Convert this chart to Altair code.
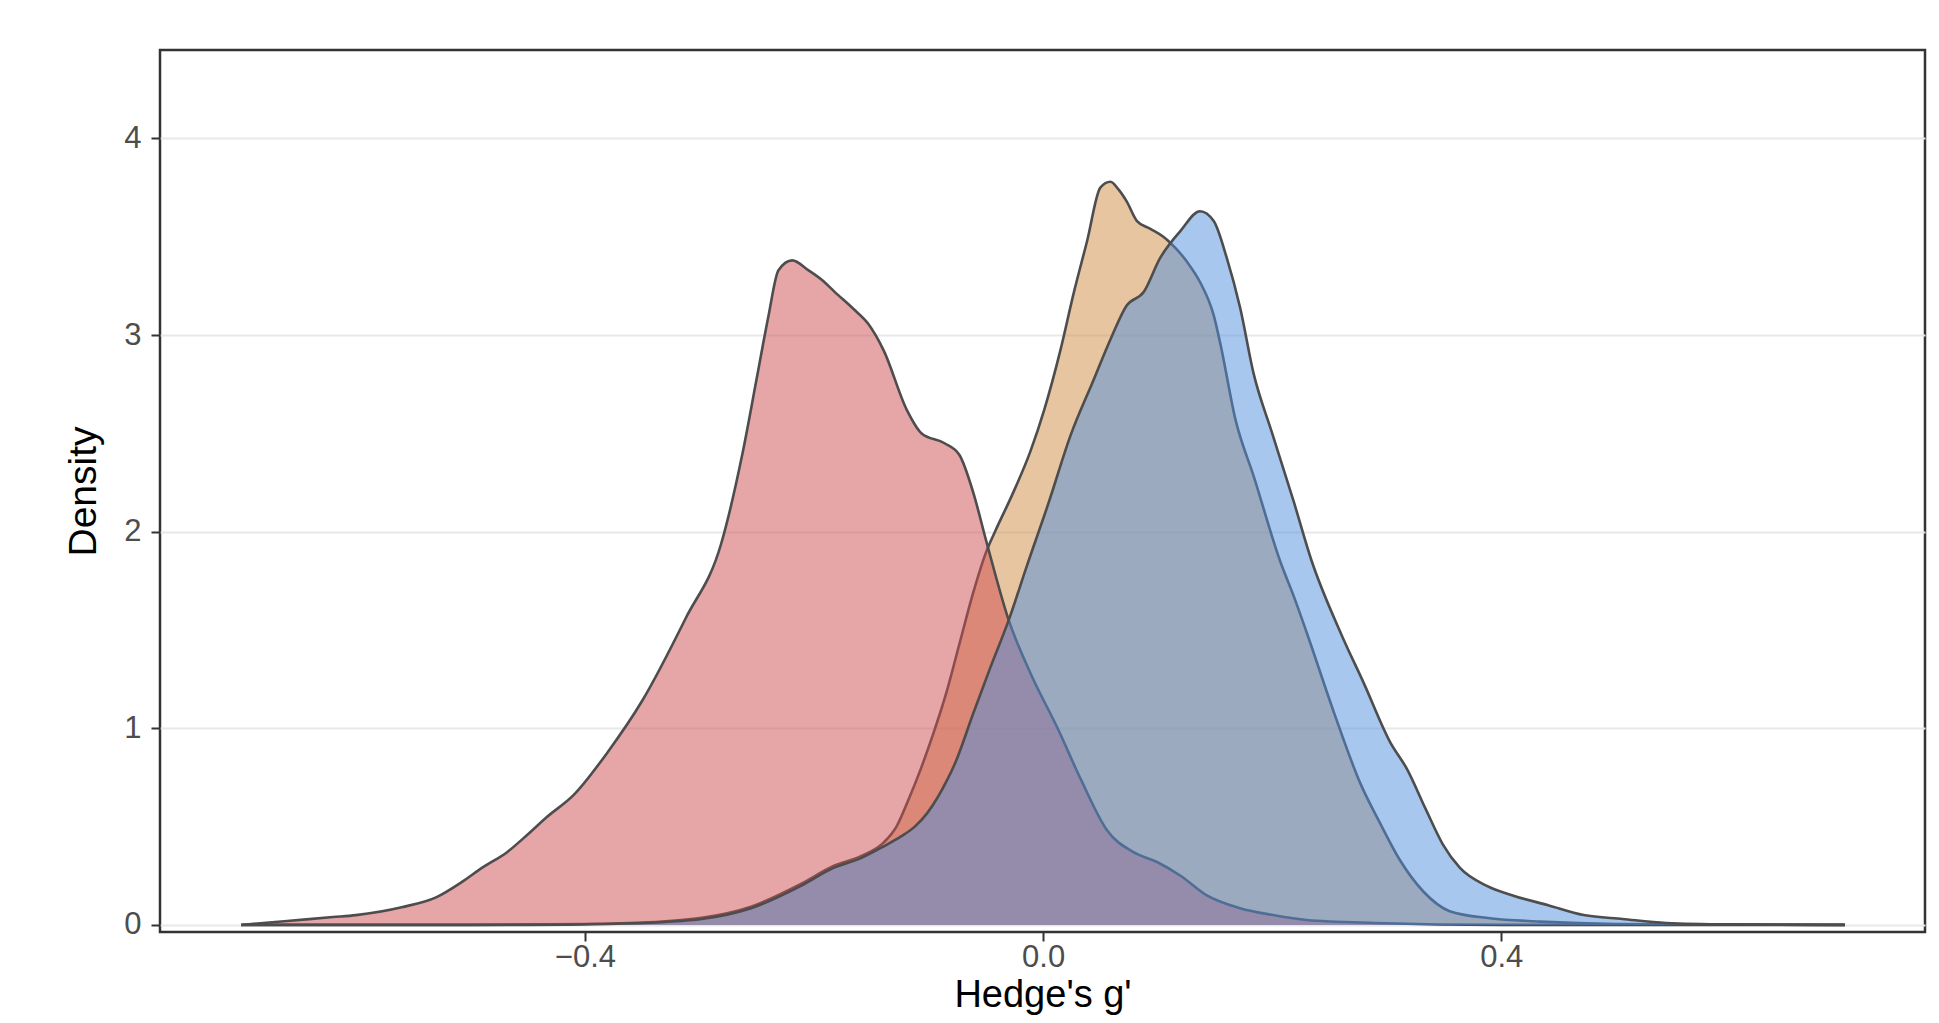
import altair as alt
import pandas as pd

# ---- data (Hedge's g' on x, density on y) ----
red_x = [-0.70, -0.66, -0.62, -0.60, -0.56, -0.53, -0.507, -0.49, -0.468, -0.45, -0.433, -0.41,
         -0.38, -0.35, -0.312, -0.281, -0.262, -0.25, -0.24, -0.231, -0.219, -0.205, -0.193,
         -0.182, -0.165, -0.153, -0.139, -0.119, -0.106, -0.086, -0.073, -0.061, -0.0495,
         -0.030, -0.011, 0.0127, 0.033, 0.056, 0.079, 0.0995, 0.12, 0.143, 0.172, 0.201,
         0.23, 0.29, 0.40, 0.70]
red_y = [0.0, 0.02, 0.04, 0.05, 0.09, 0.14, 0.22, 0.29, 0.37, 0.46, 0.55, 0.66,
         0.88, 1.14, 1.56, 1.94, 2.41, 2.78, 3.09, 3.33, 3.38, 3.33, 3.28,
         3.22, 3.13, 3.06, 2.92, 2.62, 2.50, 2.45, 2.39, 2.20, 1.95,
         1.55, 1.28, 1.00, 0.74, 0.48, 0.37, 0.32, 0.25, 0.15, 0.085, 0.05,
         0.025, 0.01, 0.0, 0.0]

orange_x = [-0.70, -0.50, -0.40, -0.34, -0.298, -0.255, -0.211, -0.183, -0.159, -0.139, -0.128,
            -0.118, -0.107, -0.096, -0.0845, -0.073, -0.061, -0.0495, -0.042, -0.026, -0.011,
            0.001, 0.015, 0.027, 0.0385, 0.050, 0.0588, 0.066, 0.073, 0.082, 0.0937, 0.105,
            0.111, 0.126, 0.137, 0.149, 0.155, 0.168, 0.184, 0.207, 0.219, 0.230, 0.254,
            0.277, 0.294, 0.3115, 0.332, 0.355, 0.39, 0.434, 0.50, 0.70]
orange_y = [0.0, 0.0, 0.005, 0.015, 0.036, 0.093, 0.21, 0.30, 0.35, 0.42, 0.50,
            0.63, 0.79, 0.97, 1.18, 1.43, 1.69, 1.90, 2.00, 2.20, 2.41,
            2.62, 2.92, 3.22, 3.48, 3.75, 3.78, 3.74, 3.68, 3.58, 3.54, 3.50,
            3.47, 3.37, 3.27, 3.10, 2.95, 2.57, 2.28, 1.85, 1.67, 1.49, 1.08,
            0.72, 0.52, 0.33, 0.17, 0.07, 0.034, 0.017, 0.005, 0.0]

blue_x = [-0.70, -0.45, -0.38, -0.33, -0.298, -0.255, -0.211, -0.183, -0.159, -0.139, -0.124,
          -0.112, -0.101, -0.0835, -0.077, -0.061, -0.046, -0.030, -0.0145, 0.005, 0.024,
          0.044, 0.059, 0.073, 0.088, 0.102, 0.12, 0.137, 0.149, 0.1605, 0.172, 0.184,
          0.1995, 0.219, 0.234, 0.261, 0.280, 0.303, 0.318, 0.334, 0.349, 0.364, 0.387,
          0.41, 0.441, 0.472, 0.506, 0.544, 0.60, 0.70]
blue_y = [0.0, 0.0, 0.005, 0.015, 0.03, 0.085, 0.20, 0.29, 0.34, 0.40, 0.45,
          0.50, 0.57, 0.74, 0.82, 1.075, 1.31, 1.55, 1.82, 2.15, 2.49,
          2.77, 2.98, 3.15, 3.22, 3.39, 3.53, 3.63, 3.58, 3.39, 3.14, 2.80,
          2.51, 2.15, 1.86, 1.47, 1.23, 0.93, 0.79, 0.59, 0.41, 0.29, 0.20,
          0.15, 0.10, 0.05, 0.03, 0.01, 0.003, 0.0]

x_ticks = [-0.4, 0.0, 0.4]
y_ticks = [0, 1, 2, 3, 4]

FONT = "Liberation Sans"

xscale = alt.Scale(domain=[-0.771, 0.770], nice=False, zero=False)
yscale = alt.Scale(domain=[-0.036, 4.45], nice=False, zero=False)

xaxis = alt.Axis(values=x_ticks, format=".1f", grid=False, domain=False,
                 tickSize=9, tickWidth=2, tickColor="#333333",
                 labelFont=FONT, labelFontSize=31, labelColor="#4D4D4D", labelPadding=1,
                 titleFont=FONT, titleFontSize=38, titleColor="black", titleFontWeight="normal",
                 titleBaseline="alphabetic", titleY=74)
yaxis = alt.Axis(values=y_ticks, format="d", grid=True, gridColor="#E8E8E8", gridWidth=2.2,
                 domain=False, tickSize=9, tickWidth=2, tickColor="#333333",
                 labelFont=FONT, labelFontSize=31, labelColor="#4D4D4D", labelPadding=10,
                 titleFont=FONT, titleFontSize=39, titleColor="black", titleFontWeight="normal",
                 titleAngle=270, titleAlign="center", titleBaseline="alphabetic",
                 titleX=-65, titleY=441)


def series(xs, ys, fill):
    df = pd.DataFrame({"x": xs, "y": ys})
    enc = dict(
        x=alt.X("x:Q", scale=xscale, axis=xaxis, title="Hedge's g'"),
        y=alt.Y("y:Q", scale=yscale, axis=yaxis, title="Density"),
    )
    area = alt.Chart(df).mark_area(color=fill, opacity=0.5, interpolate="monotone").encode(
        y2=alt.datum(0), **enc)
    line = alt.Chart(df).mark_line(color="#4D4D4D", strokeWidth=2.6,
                                   interpolate="monotone").encode(**enc)
    return [area, line]


layers = (series(orange_x, orange_y, "#D18B43")
          + series(red_x, red_y, "#CD4B4F")
          + series(blue_x, blue_y, "#4F8FDD"))

chart = alt.layer(*layers).properties(
    width=1765, height=882,
    autosize=alt.AutoSizeParams(type="none"),
    padding={"left": 152, "top": 42, "right": 6, "bottom": 83},
    background="white",
).configure_view(stroke="#333333", strokeWidth=2.5)

chart.save("out.html", embed_options={"renderer": "svg", "actions": False})
